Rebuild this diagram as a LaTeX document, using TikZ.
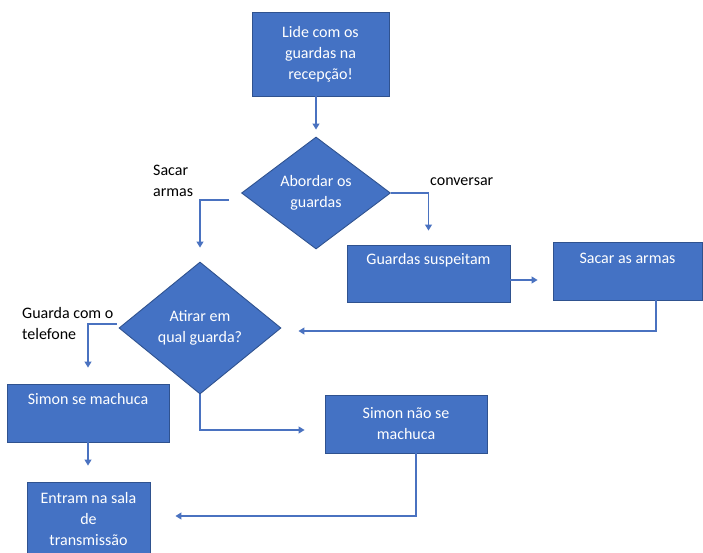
\documentclass[tikz,border=0pt]{standalone}
\usepackage{fontspec}
\setmainfont{Carlito}
\usetikzlibrary{shapes.geometric,arrows.meta,calc}
\definecolor{ofblue}{HTML}{4472C4}
\definecolor{ofedge}{HTML}{2F528F}
\definecolor{ofline}{HTML}{4A72C0}
\begin{document}
\begin{tikzpicture}[x=1pt,y=-1pt,
  every node/.style={font=\fontsize{16}{21}\selectfont, inner sep=0pt},
  box/.style={draw=ofedge, fill=ofblue, line width=0.9pt, text=white, align=center},
  dia/.style={diamond, draw=ofedge, fill=ofblue, line width=0.9pt, text=white, align=center},
  conn/.style={draw=ofline, line width=1.2pt, -{Triangle[length=6pt,width=7pt]}},
  lbl/.style={text=black, align=left, anchor=west}]
\useasboundingbox (0,0) rectangle (703,553);

\node[box, minimum width=137pt, minimum height=84pt] (b1) at (320.5,54) {Lide com os\\guardas na\\recepção!};
\node[dia, minimum width=149pt, minimum height=112pt] (d1) at (316,193) {Abordar os\\guardas};
\node[box, minimum width=163pt, text height=19pt, text depth=38pt] (b2) at (428.5,273.5) {Guardas suspeitam};
\node[box, minimum width=149pt, text height=21pt, text depth=37pt] (b3) at (627.5,271) {Sacar as armas};
\node[dia, minimum width=162pt, minimum height=132pt] (d2) at (200,328) {Atirar em\\qual guarda?};
\node[box, minimum width=162pt, text height=20pt, text depth=38pt] (b4) at (88,413) {Simon se machuca};
\node[box, minimum width=162pt, minimum height=58pt] (b5) at (406,424) {Simon não se\\machuca};
\node[box, minimum width=123pt, minimum height=74pt] (b6) at (88.5,519) {Entram na sala\\de\\transmissão};

\node[lbl] (l1) at (153,181) {Sacar\\armas};
\node[lbl] (l2) at (430,182) {conversar};
\node[lbl] (l3) at (22,324) {Guarda com o\\telefone};

\coordinate (s1) at (229,200);
\coordinate (s2) at (117,324);
\coordinate (h1) at (0,280);
\coordinate (h2) at (0,331);
\coordinate (h3) at (0,430);
\coordinate (h4) at (0,516);
\coordinate (v1) at (656,0);
\coordinate (v2) at (416,0);

\draw[conn, shorten >=7pt] (b1.south -| d1.north) -- (d1.north);
\draw[conn, shorten >=14pt] (s1) -| (d2.north);
\draw[conn, shorten >=14pt] (d1.east) -| (b2.north);
\draw[conn, shorten >=15pt] (b2.east |- h1) -- (b3.west |- h1);
\draw[conn, shorten >=17pt] (b3.south -| v1) |- (d2.east |- h2);
\draw[conn, shorten >=16pt] (s2) -| (b4.north);
\draw[conn, shorten >=20pt] (d2.south) |- (b5.west |- h3);
\draw[conn, shorten >=16pt] (b4.south) -- (b6.north -| b4.south);
\draw[conn, shorten >=25pt] (b5.south -| v2) |- (b6.east |- h4);
\end{tikzpicture}
\end{document}
